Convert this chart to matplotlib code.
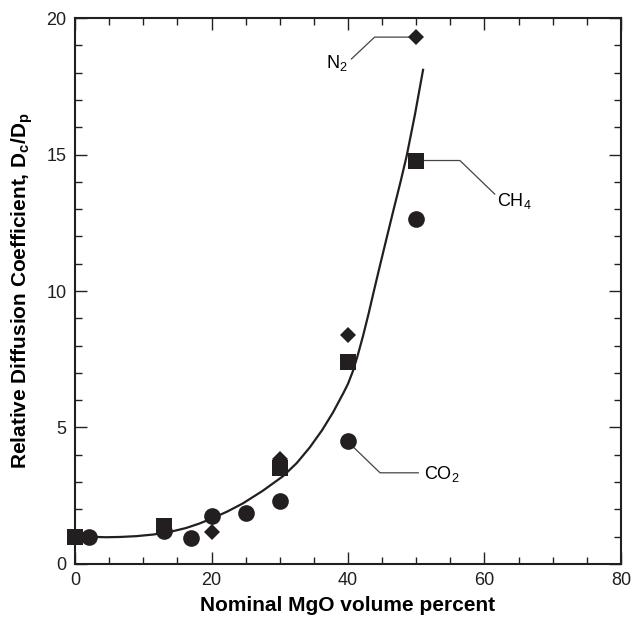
import matplotlib
matplotlib.use("Agg")
import matplotlib.pyplot as plt
from matplotlib.ticker import MultipleLocator

plt.rcParams['font.family'] = ['Liberation Sans', 'DejaVu Sans']
plt.rcParams['mathtext.default'] = 'regular'

# Data
co2_x = [2, 13, 17, 20, 25, 30, 40, 50]
co2_y = [1.0, 1.22, 0.95, 1.77, 1.88, 2.31, 4.52, 12.65]
ch4_x = [0, 13, 30, 40, 50]
ch4_y = [1.0, 1.38, 3.52, 7.41, 14.76]
n2_x = [20, 30, 40, 50]
n2_y = [1.18, 3.86, 8.39, 19.3]

# Fitted curve
fit_x = [2.0, 4.5, 6.6, 9.0, 11.5, 14.0, 16.3, 18.2, 20.0, 22.3, 24.6, 27.5, 30.5,
         32.5, 34.4, 36.2, 37.8, 39.3, 40.0, 40.7, 41.4, 42.2, 43.0, 43.7, 44.7,
         45.7, 46.7, 47.7, 48.6, 49.8, 51.0]
fit_y = [1.0, 0.98, 0.99, 1.02, 1.08, 1.18, 1.32, 1.48, 1.66, 1.92, 2.22, 2.68, 3.22,
         3.7, 4.27, 4.9, 5.55, 6.25, 6.6, 7.05, 7.62, 8.35, 9.15, 9.9, 10.95,
         11.98, 13.0, 14.0, 14.95, 16.45, 18.1]

fig = plt.figure(figsize=(6.33, 6.21), dpi=100)
ax = fig.add_axes([0.1185, 0.0918, 0.9810 - 0.1185, 0.971 - 0.0918])

ink = '#231f20'
ax.plot(fit_x, fit_y, color=ink, lw=1.6, zorder=2)
ax.plot(co2_x, co2_y, 'o', color=ink, ms=12, mew=0, zorder=3, clip_on=False)
ax.plot(ch4_x, ch4_y, 's', color=ink, ms=12, mew=0, zorder=3, clip_on=False)
ax.plot(n2_x, n2_y, 'D', color=ink, ms=8.5, mew=0, zorder=3, clip_on=False)

# Callouts
lc = '#444444'
ax.plot([49.9, 43.9, 40.5], [19.3, 19.3, 18.5], color=lc, lw=0.9, zorder=1)
ax.text(38.4, 18.35, 'N$_2$', fontsize=13, ha='center', va='center')
ax.plot([49.9, 56.4, 61.5], [14.78, 14.78, 13.55], color=lc, lw=0.9, zorder=1)
ax.text(61.9, 13.3, 'CH$_4$', fontsize=13, ha='left', va='center')
ax.plot([39.8, 44.7, 50.3], [4.52, 3.34, 3.34], color=lc, lw=0.9, zorder=1)
ax.text(51.2, 3.28, 'CO$_2$', fontsize=13, ha='left', va='center')

ax.set_xlim(0, 80)
ax.set_ylim(0, 20)
ax.xaxis.set_major_locator(MultipleLocator(20))
ax.xaxis.set_minor_locator(MultipleLocator(5))
ax.yaxis.set_major_locator(MultipleLocator(5))
ax.yaxis.set_minor_locator(MultipleLocator(1))
ax.tick_params(which='both', direction='in', top=True, right=True, width=1, colors=ink,
               labelsize=13)
ax.tick_params(which='major', length=8.4, pad=6)
ax.tick_params(which='minor', length=4.8)
for s in ax.spines.values():
    s.set_linewidth(1.5)
    s.set_color(ink)

ax.set_xlabel('Nominal MgO volume percent', fontsize=15, fontweight='bold', labelpad=5)
ax.set_ylabel('Relative Diffusion Coefficient, D$_c$/D$_p$', fontsize=15,
              fontweight='bold', labelpad=8)

fig.savefig('out.png', dpi=100)
